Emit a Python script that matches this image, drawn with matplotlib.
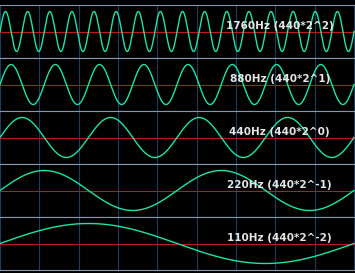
import numpy as np
import matplotlib
matplotlib.use("Agg")
import matplotlib.pyplot as plt

# data
freqs = [1760, 880, 440, 220, 110]
labels = ["1760Hz (440*2^2)", "880Hz (440*2^1)", "440Hz (440*2^0)",
          "220Hz (440*2^-1)", "110Hz (440*2^-2)"]
base_freq = 110.0
n_divisions = 9

W, H = 355, 273
fig = plt.figure(figsize=(W / 100, H / 100), dpi=100, facecolor="black")

top_px, bot_px = 5, 270
panel_h = (bot_px - top_px) / len(freqs)

T = 1.0 / base_freq
t = np.linspace(0, T, 3000)
grid_x = np.linspace(0, T, n_divisions + 1)

wave_c = "#1fe3a8"
red_c = "#c01818"
sep_c = "#8697ab"
grid_c = "#1c3c60"

for i, (f, lab) in enumerate(zip(freqs, labels)):
    y_top = top_px + i * panel_h
    ax = fig.add_axes([0, 1 - (y_top + panel_h) / H, 1, panel_h / H])
    ax.set_facecolor("black")
    ax.set_xlim(0, T * 355 / 354)
    ax.set_ylim(-1.325, 1.325)
    for gx in grid_x:
        ax.axvline(gx, color=grid_c, lw=0.8, zorder=1)
    ax.axhline(0, color=red_c, lw=0.8, zorder=2)
    ax.plot(t, np.sin(2 * np.pi * f * t), color=wave_c, lw=1.0, zorder=3)
    ax.text(0.788, 0.6, lab, transform=ax.transAxes, ha="center", va="center",
            color="#e6e6e6", fontsize=7.5, fontweight="bold",
            family="DejaVu Sans", zorder=4)
    ax.set_xticks([])
    ax.set_yticks([])
    for s in ["left", "right"]:
        ax.spines[s].set_visible(False)
    for s in ["top", "bottom"]:
        ax.spines[s].set_color(sep_c)
        ax.spines[s].set_linewidth(0.8)
        ax.spines[s].set_zorder(5)

fig.savefig("out.png", dpi=100, facecolor="black")
